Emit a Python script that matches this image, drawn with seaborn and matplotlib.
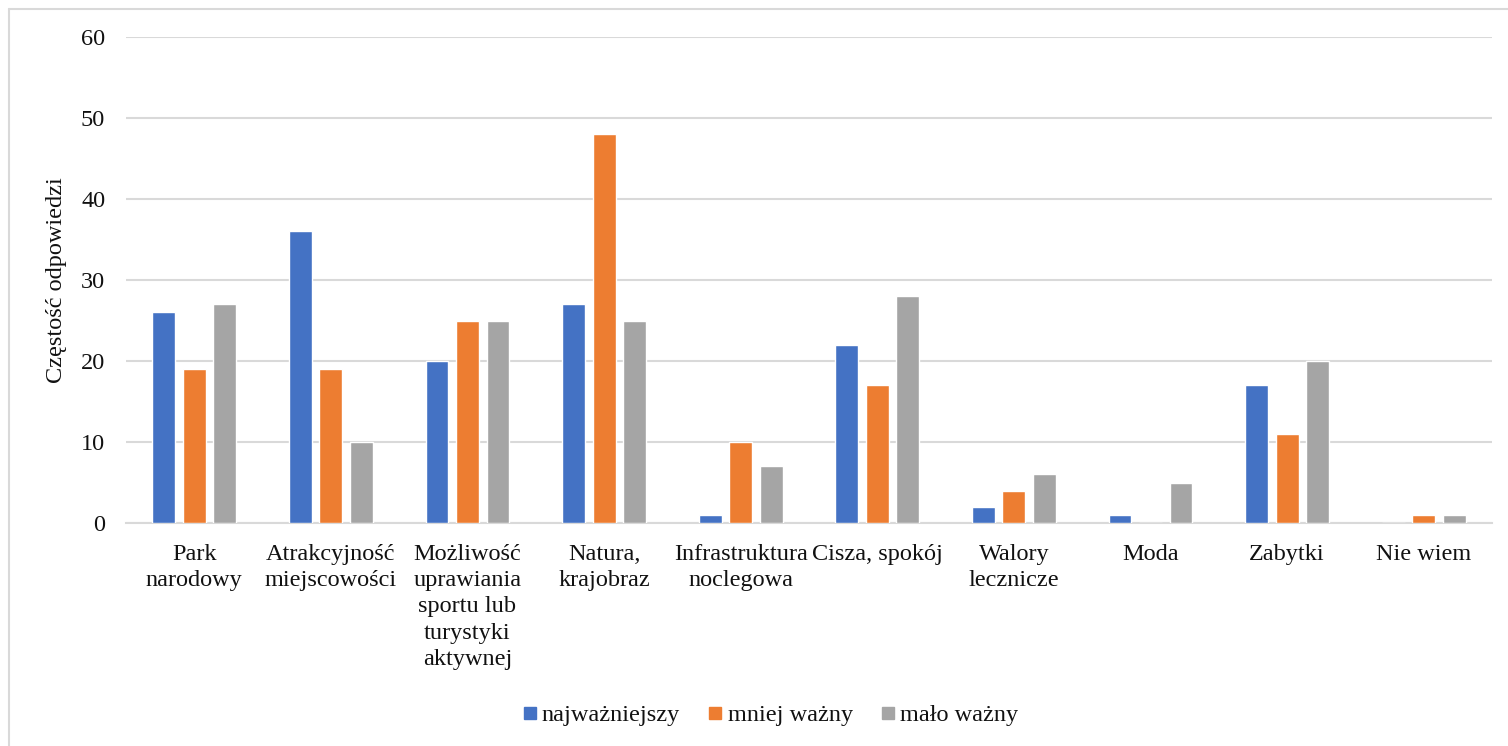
import matplotlib
matplotlib.use("Agg")
import matplotlib.pyplot as plt
from matplotlib.lines import Line2D
import seaborn as sns
import pandas as pd

categories = [
    "Park\nnarodowy",
    "Atrakcyjność\nmiejscowości",
    "Możliwość\nuprawiania\nsportu lub\nturystyki\naktywnej",
    "Natura,\nkrajobraz",
    "Infrastruktura\nnoclegowa",
    "Cisza, spokój",
    "Walory\nlecznicze",
    "Moda",
    "Zabytki",
    "Nie wiem",
]
series_names = ["najważniejszy", "mniej ważny", "mało ważny"]
najwazniejszy = [26, 36, 20, 27, 1, 22, 2, 1, 17, 0]
mniej_wazny = [19, 19, 25, 48, 10, 17, 4, 0, 11, 1]
malo_wazny = [27, 10, 25, 25, 7, 28, 6, 5, 20, 1]
y_ticks = [0, 10, 20, 30, 40, 50, 60]
colors = ["#4472C4", "#ED7D31", "#A5A5A5"]

rows = []
for name, vals in zip(series_names, [najwazniejszy, mniej_wazny, malo_wazny]):
    for cat, v in zip(categories, vals):
        rows.append({"kategoria": cat, "seria": name, "wartosc": v})
df = pd.DataFrame(rows)

sns.set_theme(style="white")
plt.rcParams["font.family"] = ["Liberation Serif", "DejaVu Serif"]

FS = 17.5
fig = plt.figure(figsize=(15.08, 7.46), dpi=100)
ax = fig.add_axes([126 / 1508, 1 - 523 / 746, (1492 - 126) / 1508, (523 - 37) / 746])

sns.barplot(
    data=df, x="kategoria", y="wartosc", hue="seria",
    order=categories, hue_order=series_names, palette=colors,
    width=0.67, gap=0.25, saturation=1, errorbar=None, ax=ax, zorder=3,
)

ax.set_ylim(0, 60)
ax.set_xlim(-0.5, len(categories) - 0.5)
ax.set_yticks(y_ticks)
ax.yaxis.grid(True, color="#D9D9D9", linewidth=1.5, zorder=0)
ax.set_axisbelow(True)
for s in ["top", "right", "left"]:
    ax.spines[s].set_visible(False)
ax.spines["bottom"].set_color("#D9D9D9")
ax.spines["bottom"].set_linewidth(1.5)
ax.tick_params(axis="both", length=0, labelsize=FS, colors="#111111")
ax.tick_params(axis="y", pad=15)
ax.tick_params(axis="x", pad=15)
for lbl in ax.get_xticklabels():
    lbl.set_linespacing(1.33)
ax.set_xlabel("")
ax.set_ylabel("Częstość odpowiedzi", fontsize=FS, color="#111111", labelpad=10)

ax.get_legend().remove()
handles = [Line2D([0], [0], marker="s", linestyle="none", markersize=8.6,
                  markerfacecolor=c, markeredgecolor=c) for c in colors]
fig.legend(handles, series_names, loc="center", bbox_to_anchor=(771 / 1508, 1 - 715 / 746),
           ncol=3, frameon=False, fontsize=FS, handlelength=0.5, handletextpad=0.25,
           columnspacing=1.2, labelcolor="#111111")

# outer chart frame
fig.add_artist(Line2D([8.5 / 1508, 8.5 / 1508], [0, 1 - 8.5 / 746], transform=fig.transFigure,
                      color="#D9D9D9", linewidth=1.5))
fig.add_artist(Line2D([8.5 / 1508, 1], [1 - 8.5 / 746, 1 - 8.5 / 746], transform=fig.transFigure,
                      color="#D9D9D9", linewidth=1.5))

fig.savefig("out.png", dpi=100)
